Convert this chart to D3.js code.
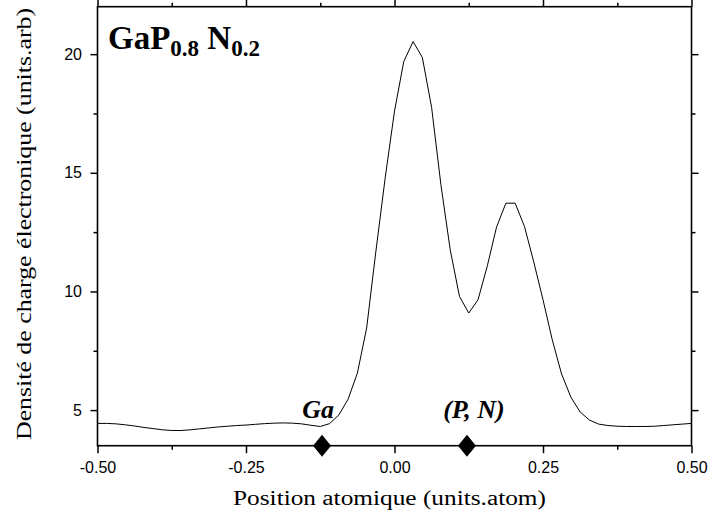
<!DOCTYPE html>
<html>
<head>
<meta charset="utf-8">
<script src="https://cdn.jsdelivr.net/npm/d3@7"></script>
<style>
  body { margin: 0; background: #fff; }
  svg { display: block; }
</style>
</head>
<body>
<svg id="chart" width="710" height="520"></svg>
<script>
// positions along the bond (units.atom)
const positions = [
  -0.5000, -0.4844, -0.4688, -0.4531, -0.4375, -0.4219, -0.4063, -0.3906,
  -0.3750, -0.3594, -0.3438, -0.3281, -0.3125, -0.2969, -0.2813, -0.2656,
  -0.2500, -0.2344, -0.2188, -0.2031, -0.1875, -0.1719, -0.1563, -0.1406,
  -0.1250, -0.1094, -0.0938, -0.0781, -0.0625, -0.0469, -0.0313, -0.0156,
   0.0000,
   0.0156,  0.0313,  0.0469,  0.0625,  0.0781,  0.0938,  0.1094,  0.1250,
   0.1406,  0.1563,  0.1719,  0.1875,  0.2031,  0.2188,  0.2344,  0.2500,
   0.2656,  0.2813,  0.2969,  0.3125,  0.3281,  0.3438,  0.3594,  0.3750,
   0.3906,  0.4063,  0.4219,  0.4375,  0.4531,  0.4688,  0.4844,  0.5000
];

// electronic charge density (units.arb)
const density = [
  4.44, 4.44, 4.42, 4.38, 4.33, 4.27, 4.22, 4.17,
  4.14, 4.14, 4.17, 4.21, 4.25, 4.29, 4.32, 4.35,
  4.37, 4.40, 4.43, 4.45, 4.46, 4.45, 4.42, 4.36,
  4.31, 4.43, 4.79, 5.46, 6.56, 8.46, 11.7, 14.8,
  17.6,
  19.69, 20.53, 19.86, 17.75, 14.5, 11.76, 9.79, 9.09,
  9.65, 11.08, 12.72, 13.72, 13.72, 12.74, 11.25, 9.65,
  7.96, 6.52, 5.55, 4.92, 4.58, 4.41, 4.35, 4.32,
  4.31, 4.31, 4.31, 4.32, 4.35, 4.38, 4.41, 4.44
];

// atom sites
const atomNames = ["Ga", "(P, N)"];
const atomPositions = [-0.122, 0.122];

const xMajor = [-0.5, -0.25, 0, 0.25, 0.5];
const xMajorLabels = ["-0.50", "-0.25", "0.00", "0.25", "0.50"];
const xMinor = [-0.375, -0.125, 0.125, 0.375];
const yMajor = [5, 10, 15, 20];
const yMinor = [7.5, 12.5, 17.5];

const svg = d3.select("#chart");
const margin = { top: 6.7, right: 18.5, bottom: 74.3, left: 97.5 };
const w = 710 - margin.left - margin.right,
      h = 520 - margin.top - margin.bottom;
const serif = "'Liberation Serif', 'Times New Roman', serif";

const g = svg.append("g")
  .attr("transform", `translate(${margin.left},${margin.top})`);

const x = d3.scaleLinear().domain([-0.5, 0.5]).range([0, w]);
const y = d3.scaleLinear().domain([3.5, 22]).range([h, 0]);

function styleAxis(sel) {
  sel.select(".domain").remove();
  sel.selectAll(".tick line").attr("stroke", "#000").attr("stroke-width", 1.5);
  sel.selectAll(".tick text")
     .attr("fill", "#000")
     .style("font-family", "'Liberation Sans', Arial, sans-serif")
     .style("font-size", "16px");
}

// bottom
g.append("g").attr("transform", `translate(0,${h})`)
  .call(d3.axisBottom(x).tickValues(xMajor).tickSize(7.5).tickPadding(8.5)
          .tickFormat((d, i) => xMajorLabels[i]))
  .call(styleAxis);
g.append("g").attr("transform", `translate(0,${h})`)
  .call(d3.axisBottom(x).tickValues(xMinor).tickSize(4).tickFormat(""))
  .call(styleAxis);

// top
g.append("g")
  .call(d3.axisTop(x).tickValues(xMajor).tickSize(7).tickFormat(""))
  .call(styleAxis);
g.append("g")
  .call(d3.axisTop(x).tickValues(xMinor).tickSize(4).tickFormat(""))
  .call(styleAxis);

// left
g.append("g")
  .call(d3.axisLeft(y).tickValues(yMajor).tickSize(7).tickPadding(8.5)
          .tickFormat(d3.format("d")))
  .call(styleAxis);
g.append("g")
  .call(d3.axisLeft(y).tickValues(yMinor).tickSize(4).tickFormat(""))
  .call(styleAxis);

// right
g.append("g").attr("transform", `translate(${w},0)`)
  .call(d3.axisRight(y).tickValues(yMajor).tickSize(7).tickFormat(""))
  .call(styleAxis);
g.append("g").attr("transform", `translate(${w},0)`)
  .call(d3.axisRight(y).tickValues(yMinor).tickSize(4).tickFormat(""))
  .call(styleAxis);

// frame
g.append("rect")
  .attr("width", w).attr("height", h)
  .attr("fill", "none").attr("stroke", "#000").attr("stroke-width", 1.6);

// density curve
const line = d3.line()
  .x((d, i) => x(positions[i]))
  .y(d => y(d));

g.append("path")
  .datum(density)
  .attr("d", line)
  .attr("fill", "none")
  .attr("stroke", "#000")
  .attr("stroke-width", 1);

// atom markers
const diamond = "M0,-11L9,0L0,11L-9,0Z";
g.selectAll(".atom")
  .data(atomPositions)
  .enter()
  .append("path")
  .attr("class", "atom")
  .attr("d", diamond)
  .attr("transform", d => `translate(${x(d)},${h})`)
  .attr("fill", "#000");

const labelShift = [-4, 7];
g.selectAll(".atomName")
  .data(atomNames)
  .enter()
  .append("text")
  .attr("class", "atomName")
  .attr("x", (d, i) => x(atomPositions[i]) + labelShift[i])
  .attr("y", 418.3 - margin.top)
  .attr("text-anchor", "middle")
  .style("font-family", serif)
  .style("font-weight", "bold")
  .style("font-style", "italic")
  .style("font-size", "26px")
  .text(d => d);

// compound label
const title = svg.append("text")
  .attr("x", 108).attr("y", 49)
  .style("font-family", serif)
  .style("font-weight", "bold")
  .style("font-size", "33px");
title.append("tspan").text("GaP");
title.append("tspan").attr("dy", 7).style("font-size", "23px").text("0.8");
title.append("tspan").attr("dy", -7).text(" N");
title.append("tspan").attr("dy", 7).style("font-size", "23px").text("0.2");

// axis titles
svg.append("text")
  .attr("x", 389.5).attr("y", 505)
  .attr("text-anchor", "middle")
  .attr("textLength", 313)
  .attr("lengthAdjust", "spacingAndGlyphs")
  .style("font-family", serif)
  .style("font-size", "20px")
  .text("Position atomique (units.atom)");

svg.append("text")
  .attr("transform", "translate(31,224) rotate(-90)")
  .attr("text-anchor", "middle")
  .attr("textLength", 432)
  .attr("lengthAdjust", "spacingAndGlyphs")
  .style("font-family", serif)
  .style("font-size", "21px")
  .text("Densité de charge électronique (units.arb)");
</script>
</body>
</html>
